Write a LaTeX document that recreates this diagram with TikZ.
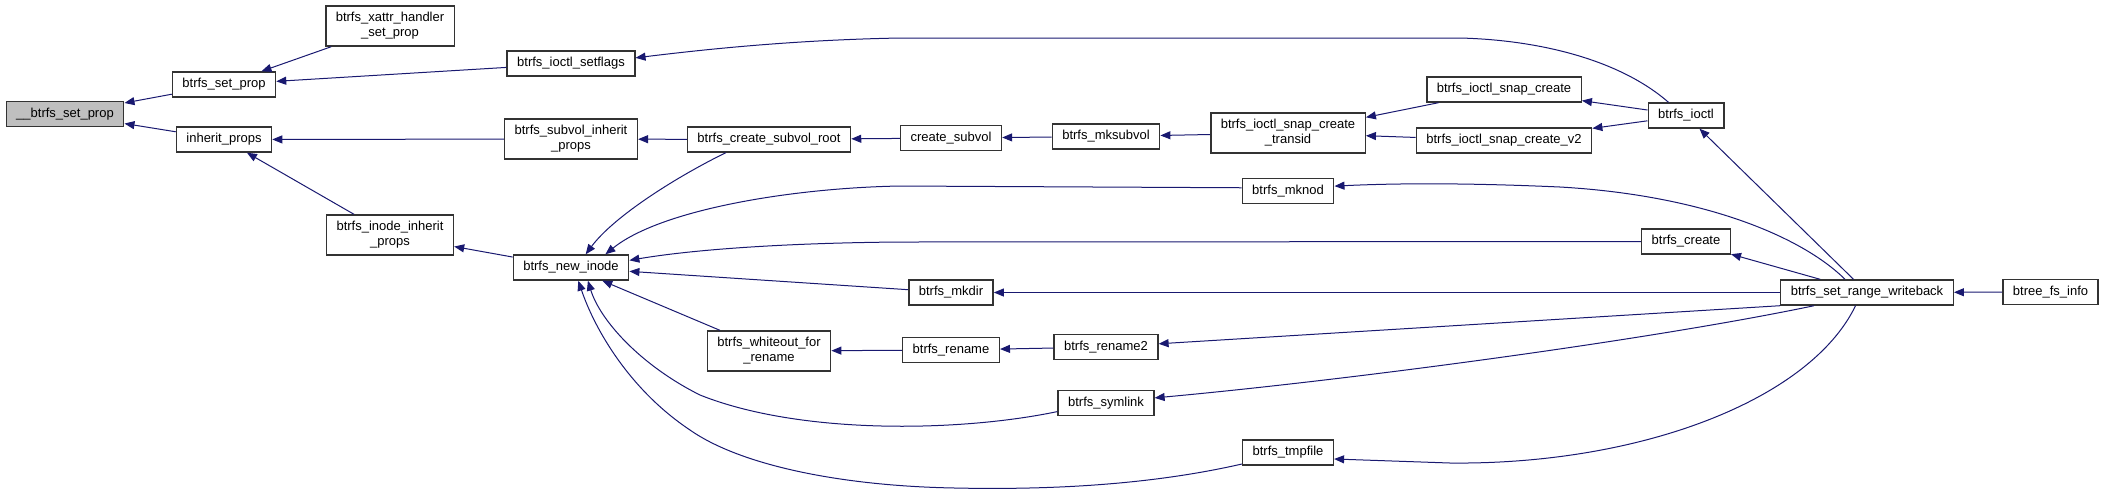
\documentclass[tikz,border=0pt]{standalone}
\usepackage{tikz}
\usetikzlibrary{arrows.meta}
\usepackage{fontspec}
\setmainfont{Liberation Sans}
\definecolor{edgeblue}{RGB}{25,25,112}

\begin{document}
\begin{tikzpicture}[x=0.5pt,y=-0.5pt,>={Triangle[length=5pt,width=4pt]},%
		fn/.style={draw=black!80, line width=0.7pt, fill=white,%
			inner xsep=5pt, inner ysep=0pt, minimum height=12.5pt,%
			align=center, font=\fontsize{6.5pt}{7.5pt}\selectfont},%
		fntwo/.style={fn, minimum height=20pt},%
		fnroot/.style={fn, fill=black!25},%
		call/.style={edgeblue, line width=0.5pt}]
		\useasboundingbox (0,0) rectangle (2105,495);
		% functions
		\node[fnroot] (setpropint) at (65,114) {\_\_btrfs\_set\_prop};
		\node[fn] (setprop) at (224,84.5) {btrfs\_set\_prop};
		\node[fntwo] (xattr) at (390,26) {btrfs\_xattr\_handler\\\_set\_prop};
		\node[fn] (setflags) at (571,63.5) {btrfs\_ioctl\_setflags};
		\node[fn] (inherit) at (224,139.5) {inherit\_props};
		\node[fntwo] (subvolinh) at (571,139) {btrfs\_subvol\_inherit\\\_props};
		\node[fntwo] (inodeinh) at (390,235) {btrfs\_inode\_inherit\\\_props};
		\node[fn] (newinode) at (571,267.5) {btrfs\_new\_inode};
		\node[fn] (subvolroot) at (769,139.5) {btrfs\_create\_subvol\_root};
		\node[fn] (createsubvol) at (951,138) {create\_subvol};
		\node[fn] (mksubvol) at (1106,136.5) {btrfs\_mksubvol};
		\node[fntwo] (transid) at (1288,133) {btrfs\_ioctl\_snap\_create\\\_transid};
		\node[fn] (mknod) at (1288,191) {btrfs\_mknod};
		\node[fn] (mkdir) at (951,292.5) {btrfs\_mkdir};
		\node[fntwo] (whiteout) at (769,351) {btrfs\_whiteout\_for\\\_rename};
		\node[fn] (rename) at (951,350) {btrfs\_rename};
		\node[fn] (renametwo) at (1106,347) {btrfs\_rename2};
		\node[fn] (symlink) at (1106,403) {btrfs\_symlink};
		\node[fn] (tmpfile) at (1288,452.5) {btrfs\_tmpfile};
		\node[fn] (snapcreate) at (1504,89.5) {btrfs\_ioctl\_snap\_create};
		\node[fn] (snapcreatevtwo) at (1504,140.5) {btrfs\_ioctl\_snap\_create\_v2};
		\node[fn] (ioctl) at (1686,115.5) {btrfs\_ioctl};
		\node[fn] (create) at (1686,241.5) {btrfs\_create};
		\node[fn] (writeback) at (1867,292.5) {btrfs\_set\_range\_writeback};
		\node[fn] (fsinfo) at (2050.5,292) {btree\_fs\_info};
		% calls, arrow at the callee
		\draw[call,->] (setprop) -- (setpropint);
		\draw[call,->] (inherit) -- (setpropint);
		\draw[call,->] (xattr) -- (setprop);
		\draw[call,->] (setflags) -- (setprop);
		\draw[call,->] (ioctl.143) .. controls (1620,60) and (1540,40) .. (1460,38) -- (900,38) .. controls (790,40) and (700,50) .. (setflags.5);
		\draw[call,->] (subvolinh) -- (inherit);
		\draw[call,->] (inodeinh) -- (inherit);
		\draw[call,->] (subvolroot) -- (subvolinh);
		\draw[call,->] (newinode) -- (inodeinh);
		\draw[call,->] (createsubvol) -- (subvolroot);
		\draw[call,->] (mksubvol) -- (createsubvol);
		\draw[call,->] (transid) -- (mksubvol);
		\draw[call,->] (snapcreate) -- (transid);
		\draw[call,->] (snapcreatevtwo) -- (transid);
		\draw[call,->] (ioctl) -- (snapcreate);
		\draw[call,->] (ioctl) -- (snapcreatevtwo);
		\draw[call,->] (writeback) -- (ioctl);
		\draw[call,->] (subvolroot.197) .. controls (680,175) and (615,215) .. (newinode.42);
		\draw[call,->] (mknod.176) -- (900,186) .. controls (790,188) and (660,210) .. (newinode.21);
		\draw[call,->] (create.west) -- (900,242) .. controls (780,243) and (690,250) .. (newinode.7);
		\draw[call,->] (mkdir) -- (newinode);
		\draw[call,->] (whiteout) -- (newinode);
		\draw[call,->] (symlink.190) .. controls (960,432) and (800,435) .. (700,395) .. controls (640,365) and (600,320) .. (newinode.-38);
		\draw[call,->] (tmpfile.194) .. controls (1150,485) and (1050,490) .. (955,488) .. controls (840,486) and (740,465) .. (690,430) .. controls (630,390) and (595,330) .. (newinode.-61);
		\draw[call,->] (writeback.149) .. controls (1800,235) and (1700,195) .. (1560,187) .. controls (1470,183) and (1400,183) .. (mknod.6);
		\draw[call,->] (writeback) -- (create);
		\draw[call,->] (writeback) -- (mkdir);
		\draw[call,->] (rename) -- (whiteout);
		\draw[call,->] (renametwo) -- (rename);
		\draw[call,->] (writeback.south west) -- (renametwo);
		\draw[call,->] (writeback.194) .. controls (1650,340) and (1350,380) .. (symlink.6);
		\draw[call,->] (writeback.229) .. controls (1810,400) and (1640,465) .. (1450,463) -- (tmpfile.-8);
		\draw[call,->] (fsinfo) -- (writeback);
	\end{tikzpicture}
\end{document}
